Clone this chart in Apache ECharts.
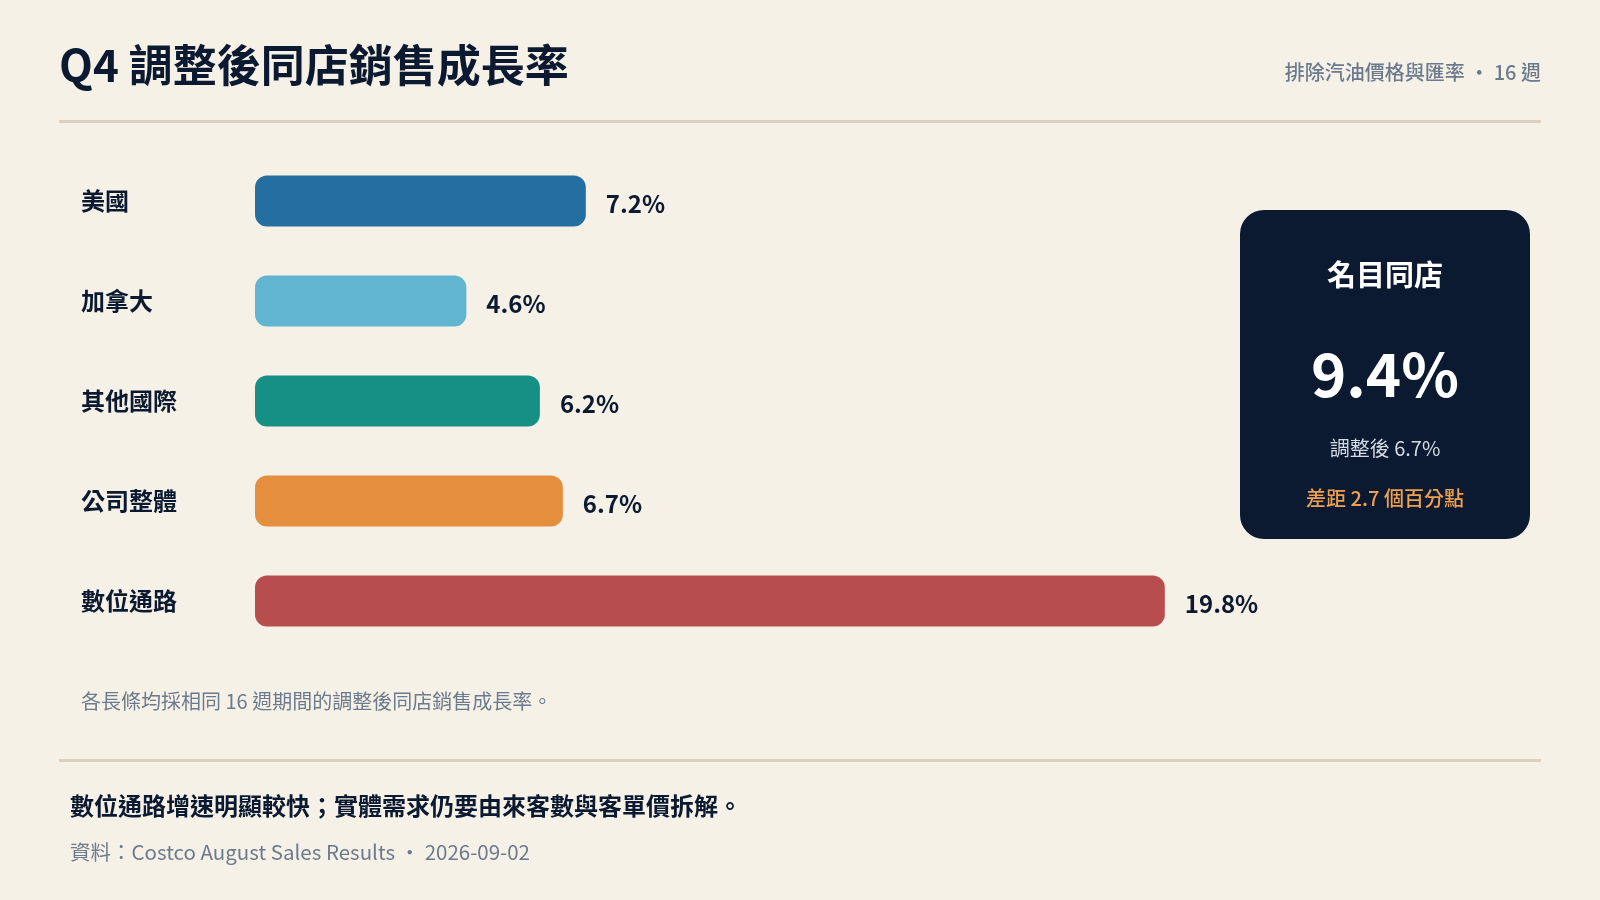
<!DOCTYPE html>
<html>
<head>
<meta charset="utf-8">
<script src="https://cdn.jsdelivr.net/npm/echarts@6/dist/echarts.min.js"></script>
<style>
html,body{margin:0;padding:0;background:#f6f1e7;}
#c{width:1600px;height:900px;}
</style>
</head>
<body>
<div id="c"></div>
<script>
const categories = ['美國', '加拿大', '其他國際', '公司整體', '數位通路'];
const values = [7.2, 4.6, 6.2, 6.7, 19.8];
const palette = ['#256fa0', '#62b5d0', '#168f84', '#e58e3e', '#b84d4e'];
const nominalComp = 9.4;
const adjustedComp = 6.7;

const FONT = '"Noto Sans CJK TC", "Noto Sans", sans-serif';
const NAVY = '#0b1a30';
const GRAY = '#6b7a8d';
const RULE = '#ddd0bf';

const chart = echarts.init(document.getElementById('c'));
const gap = (nominalComp - adjustedComp).toFixed(1);

chart.setOption({
  backgroundColor: '#f6f1e7',
  animation: false,
  textStyle: { fontFamily: FONT },
  grid: { left: 255, top: 151, height: 500, right: 426 },
  xAxis: {
    type: 'value', min: 0, max: 20,
    axisLine: { show: false }, axisTick: { show: false },
    axisLabel: { show: false }, splitLine: { show: false }
  },
  yAxis: {
    type: 'category', data: categories, inverse: true,
    axisLine: { show: false }, axisTick: { show: false },
    axisLabel: {
      align: 'left', verticalAlign: 'middle', margin: 174, color: NAVY,
      lineHeight: 24, padding: [6, 0, 0, 0],
      fontSize: 24, fontWeight: 'bold', fontFamily: FONT
    }
  },
  series: [{
    type: 'bar',
    barWidth: 51,
    data: values.map((v, i) => ({ value: v, itemStyle: { color: palette[i] } })),
    itemStyle: { borderRadius: 12 },
    label: {
      show: true, position: 'right', distance: 20, offset: [0, 3],
      formatter: p => p.value.toFixed(1) + '%',
      color: NAVY, fontSize: 24, fontWeight: 'bold', fontFamily: FONT
    }
  }],
  graphic: [
    { type: 'text', left: 59, top: 43, style: { text: 'Q4 調整後同店銷售成長率', fill: NAVY, font: 'bold 44px ' + FONT } },
    { type: 'text', right: 59, top: 62, style: { text: '排除汽油價格與匯率 ・ 16 週', fill: GRAY, font: '500 20px ' + FONT } },
    { type: 'rect', shape: { x: 59, y: 120, width: 1482, height: 3 }, style: { fill: RULE } },
    { type: 'text', left: 81, top: 691, style: { text: '各長條均採相同 16 週期間的調整後同店銷售成長率。', fill: GRAY, font: '20px ' + FONT } },
    { type: 'rect', shape: { x: 59, y: 759, width: 1482, height: 3 }, style: { fill: RULE } },
    { type: 'text', left: 70, top: 794, style: { text: '數位通路增速明顯較快；實體需求仍要由來客數與客單價拆解。', fill: NAVY, font: 'bold 24px ' + FONT } },
    { type: 'text', left: 70, top: 842, style: { text: '資料：Costco August Sales Results ・ 2026-09-02', fill: GRAY, font: '20.5px ' + FONT } },
    { type: 'rect', shape: { x: 1240, y: 210, width: 290, height: 329, r: 24 }, style: { fill: NAVY } },
    { type: 'text', x: 1385, y: 275, style: { text: '名目同店', fill: '#ffffff', font: 'bold 29px ' + FONT, textAlign: 'center', textVerticalAlign: 'middle' } },
    { type: 'text', x: 1385, y: 374, style: { text: nominalComp.toFixed(1) + '%', fill: '#ffffff', font: 'bold 60px ' + FONT, textAlign: 'center', textVerticalAlign: 'middle' } },
    { type: 'text', x: 1385, y: 448, style: { text: '調整後 ' + adjustedComp.toFixed(1) + '%', fill: '#d3dbe6', font: '20px ' + FONT, textAlign: 'center', textVerticalAlign: 'middle' } },
    { type: 'text', x: 1385, y: 498, style: { text: '差距 ' + gap + ' 個百分點', fill: '#f0a04e', font: '500 20px ' + FONT, textAlign: 'center', textVerticalAlign: 'middle' } }
  ]
});
</script>
</body>
</html>
